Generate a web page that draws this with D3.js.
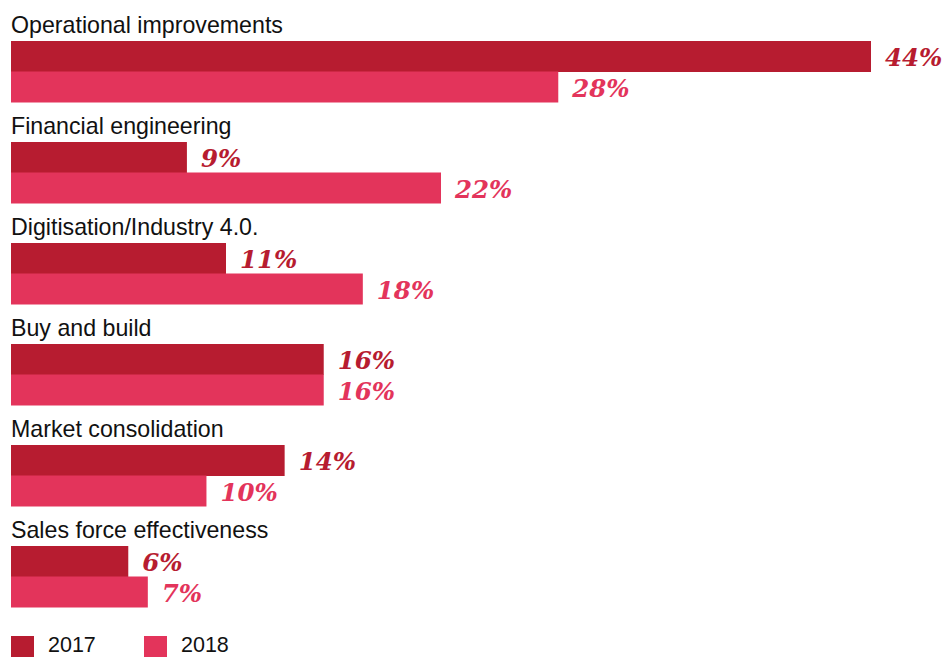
<!DOCTYPE html>
<html><head><meta charset="utf-8">
<script src="https://cdn.jsdelivr.net/npm/d3@7"></script>
<style>body{margin:0;background:#fff}</style>
</head><body>
<svg id="chart" width="944" height="657"></svg>
<script>
const categories = ["Operational improvements","Financial engineering","Digitisation/Industry 4.0.","Buy and build","Market consolidation","Sales force effectiveness"];
const values2017 = [44, 9, 11, 16, 14, 6];
const values2018 = [28, 22, 18, 16, 10, 7];
const seriesNames = ["2017","2018"];
const colors = ["#B71C30","#E3345B"];

const svg = d3.select("#chart");
const left = 11;
const x = d3.scaleLinear().domain([0, 44]).range([left, 871]);
const y = d3.scaleBand().domain(categories).range([0, 606]).paddingInner(0).paddingOuter(0);
const barH = 30.5;
const barTop = 41;

const g = svg.selectAll("g.grp").data(categories).join("g")
  .attr("transform", d => `translate(0,${y(d)})`);

g.append("text").attr("x", left).attr("y", 33)
  .attr("font-family","Liberation Sans, Arial, sans-serif")
  .attr("font-size", 23.2)
  .attr("fill","#111").text(d => d);

const series = [values2017, values2018];
series.forEach((vals, si) => {
  g.append("rect")
    .attr("x", x(0)).attr("y", (d,i) => barTop + si*barH)
    .attr("width", (d,i) => x(vals[i]) - x(0)).attr("height", barH + 0.5)
    .attr("fill", colors[si]);
  g.append("text")
    .attr("x", (d,i) => x(vals[i]) + 14).attr("y", barTop + si*barH + 25)
    .attr("font-family","DejaVu Serif, Georgia, serif").attr("font-weight","bold").attr("font-style","italic")
    .attr("font-size", 24.5).attr("fill", colors[si])
    .text((d,i) => vals[i] + "%");
});

const leg = svg.selectAll("g.leg").data(seriesNames).join("g")
  .attr("transform", (d,i) => `translate(${11 + i*133},636)`);
leg.append("rect").attr("width", 23).attr("height", 21).attr("fill", (d,i) => colors[i]);
leg.append("text").attr("x", 37).attr("y", 15.5)
  .attr("font-family","Liberation Sans, Arial, sans-serif").attr("font-size", 21.5)
  .attr("fill","#111").text(d => d);
</script>
</body></html>
